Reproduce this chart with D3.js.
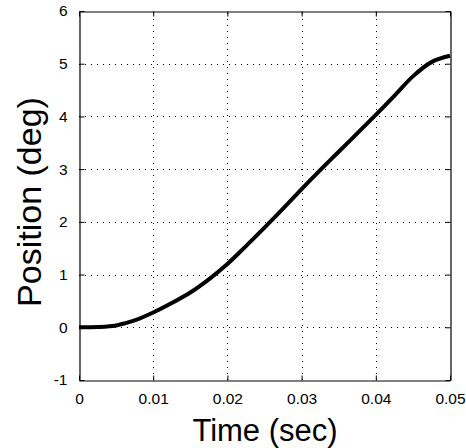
<!DOCTYPE html>
<html>
<head>
<meta charset="utf-8">
<script src="https://cdn.jsdelivr.net/npm/d3@7"></script>
<style>
  html, body { margin: 0; padding: 0; background: #fff; }
  svg { display: block; }
  text { font-family: "Liberation Sans", Arial, Helvetica, sans-serif; fill: #000; }
</style>
</head>
<body>
<svg id="chart" width="466" height="448"></svg>
<script>
// Step response: angular position over time
const timeSec = [0, 0.0025, 0.005, 0.0075, 0.01, 0.0125, 0.015, 0.0175, 0.02, 0.0225,
                 0.025, 0.0275, 0.03, 0.0325, 0.035, 0.0375, 0.04, 0.0425, 0.045, 0.0475, 0.05];
const positionDeg = [0, 0.005, 0.035, 0.13, 0.28, 0.46, 0.66, 0.91, 1.2, 1.54,
                     1.89, 2.25, 2.62, 2.98, 3.33, 3.68, 4.03, 4.39, 4.76, 5.03, 5.15];

const xTicks = [0, 0.01, 0.02, 0.03, 0.04, 0.05];
const xTickLabels = ["0", "0.01", "0.02", "0.03", "0.04", "0.05"];
const yTicks = [-1, 0, 1, 2, 3, 4, 5, 6];
const yTickLabels = ["-1", "0", "1", "2", "3", "4", "5", "6"];

const xLabel = "Time (sec)";
const yLabel = "Position (deg)";

const svg = d3.select("#chart");
const plotL = 79, plotR = 450, plotT = 11, plotB = 380;

const x = d3.scaleLinear().domain([0, 0.05]).range([plotL, plotR]);
const y = d3.scaleLinear().domain([-1, 6]).range([plotB, plotT]);

// dotted grid
const grid = svg.append("g").attr("stroke", "#000").attr("stroke-width", 1)
  .attr("stroke-dasharray", "1,5").attr("shape-rendering", "crispEdges");
grid.selectAll("line.vx").data(xTicks.slice(1, -1)).join("line")
  .attr("x1", d => Math.round(x(d)) + 0.5).attr("x2", d => Math.round(x(d)) + 0.5)
  .attr("y1", plotB).attr("y2", plotT);
grid.selectAll("line.hy").data(yTicks.slice(1, -1)).join("line")
  .attr("x1", plotL).attr("x2", plotR)
  .attr("y1", d => Math.round(y(d)) + 0.5).attr("y2", d => Math.round(y(d)) + 0.5);

// axes with inward ticks
const fmtX = (d, i) => xTickLabels[i];
const fmtY = (d, i) => yTickLabels[i];
const axB = svg.append("g").attr("transform", `translate(0,${plotB + 0.5})`)
  .call(d3.axisBottom(x).tickValues(xTicks).tickFormat(fmtX).tickSizeInner(-5).tickSizeOuter(0).tickPadding(12));
const axT = svg.append("g").attr("transform", `translate(0,${plotT + 0.5})`)
  .call(d3.axisTop(x).tickValues(xTicks).tickFormat("").tickSizeInner(-5).tickSizeOuter(0));
const axL = svg.append("g").attr("transform", `translate(${plotL + 0.5},0)`)
  .call(d3.axisLeft(y).tickValues(yTicks).tickFormat(fmtY).tickSizeInner(-5).tickSizeOuter(0).tickPadding(12));
const axR = svg.append("g").attr("transform", `translate(${plotR + 0.5},0)`)
  .call(d3.axisRight(y).tickValues(yTicks).tickFormat("").tickSizeInner(-5).tickSizeOuter(0));

[axB, axT, axL, axR].forEach(g => {
  g.selectAll("path.domain").attr("stroke", "#000").attr("stroke-width", 1.2);
  g.selectAll(".tick line").attr("stroke", "#000");
  g.selectAll(".tick text").attr("font-size", 15.5).attr("fill", "#000")
    .style("font-family", "'Liberation Sans', Arial, sans-serif");
});
axB.selectAll(".tick text").attr("dy", "0.71em");

// curve
const line = d3.line().x((d, i) => x(timeSec[i])).y(d => y(d)).curve(d3.curveCatmullRom.alpha(0.5));
svg.append("path").datum(positionDeg)
  .attr("d", line).attr("fill", "none").attr("stroke", "#000")
  .attr("stroke-width", 4).attr("stroke-linejoin", "round");

// axis titles
svg.append("text").attr("x", 265).attr("y", 441).attr("text-anchor", "middle")
  .attr("font-size", 31).text(xLabel);
svg.append("text").attr("transform", "translate(41,202) rotate(-90)")
  .attr("text-anchor", "middle").attr("font-size", 34).text(yLabel);
</script>
</body>
</html>
